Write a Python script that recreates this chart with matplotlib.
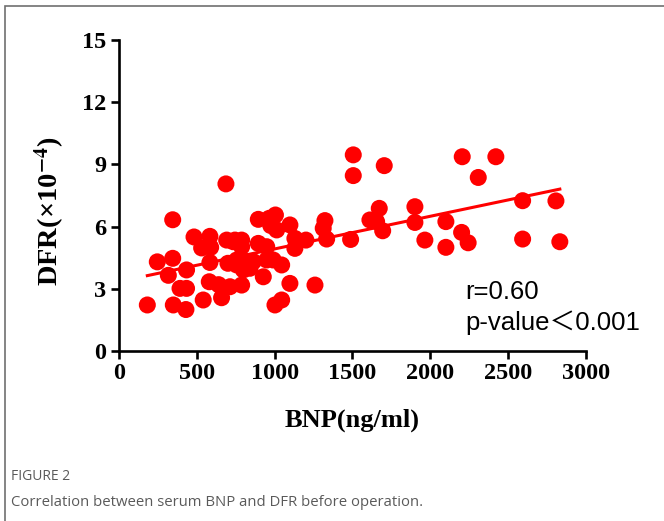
import numpy as np
import matplotlib.pyplot as plt
from matplotlib.patches import Rectangle

plt.rcParams["mathtext.fontset"] = "stix"

# BNP (ng/ml) and DFR (x10^-4)
bnp = [182, 246, 317, 345, 345, 349, 392, 430, 434, 434,
       482, 531, 541, 584, 589, 584, 580, 640, 659, 687,
       692, 700, 713, 734, 745, 756, 756, 788, 788, 788,
       799, 820, 841, 863, 895, 895, 927, 949, 949, 965,
       975, 991, 1005, 1013, 1002, 1045, 1045, 1098, 1098, 1130,
       1130, 1201, 1259, 1323, 1312, 1334, 1505, 1505, 1704, 1488,
       1672, 1612, 1655, 1694, 1901, 1901, 1965, 2100, 2100, 2201,
       2243, 2205, 2421, 2308, 2593, 2593, 2807, 2832]
dfr = [2.22, 4.30, 3.65, 6.33, 4.47, 2.22, 3.02, 2.00, 3.02, 3.91,
       5.50, 4.97, 2.46, 5.53, 5.00, 4.27, 3.34, 3.20, 2.57, 8.06,
       5.35, 4.23, 3.10, 5.27, 5.35, 4.39, 4.15, 5.35, 5.03, 3.18,
       3.91, 4.31, 3.99, 4.31, 6.35, 5.19, 3.58, 5.03, 4.39, 6.40,
       6.05, 4.39, 6.56, 5.84, 2.22, 2.46, 4.15, 6.08, 3.26, 5.43,
       4.95, 5.35, 3.18, 6.29, 5.92, 5.40, 9.46, 8.46, 8.94, 5.38,
       6.88, 6.32, 6.24, 5.80, 6.96, 6.20, 5.35, 6.24, 5.00, 5.72,
       5.22, 9.37, 9.37, 8.37, 7.25, 5.40, 7.24, 5.27]
x_ticks = [0, 500, 1000, 1500, 2000, 2500, 3000]
y_ticks = [0, 3, 6, 9, 12, 15]

fig = plt.figure(figsize=(6.64, 5.21), dpi=100)
ax = fig.add_axes([0.1792, 0.3263, 0.7033, 0.5969])

ax.scatter(bnp, dfr, s=150, color="#ff0000", edgecolors="none", zorder=3)

# linear fit
k, b = np.polyfit(bnp, dfr, 1)
xs = np.array([min(bnp), max(bnp)])
ax.plot(xs, k * xs + b, color="#ff0000", lw=2.2, zorder=4)

ax.set_xlim(0, 3000)
ax.set_ylim(0, 15)
ax.set_xticks(x_ticks)
ax.set_yticks(y_ticks)
for s in ["top", "right"]:
    ax.spines[s].set_visible(False)
for s in ["left", "bottom"]:
    ax.spines[s].set_linewidth(1.9)
ax.tick_params(width=1.9, length=6, labelsize=17.5, pad=3)
for lab in ax.get_xticklabels() + ax.get_yticklabels():
    lab.set_fontfamily("Liberation Serif")
    lab.set_fontweight("bold")

ax.set_xlabel("BNP(ng/ml)", fontsize=19, fontweight="bold",
              fontfamily="Liberation Serif", labelpad=17)
ax.set_ylabel("DFR(×10$^{\\mathbf{-4}}$)", fontsize=20.5, fontweight="bold",
              fontfamily="Liberation Serif")
ax.yaxis.set_label_coords(-0.112, 0.45)

ax.text(0.742, 0.19, "r=0.60", transform=ax.transAxes, fontsize=18.5,
        family=["Liberation Sans", "Noto Sans CJK SC"], va="center")
ax.text(0.742, 0.09, "p-value＜0.001", transform=ax.transAxes, fontsize=18.5,
        family=["Liberation Sans", "Noto Sans CJK SC"], va="center")

# caption and frame
fig.text(0.017, 0.086, "FIGURE 2", fontsize=10, color="#5a5a5a",
         family="Open Sans", va="center")
fig.text(0.016, 0.035, "Correlation between serum BNP and DFR before operation.",
         fontsize=10.7, color="#5a5a5a", family="Open Sans", va="center")
fig.patches.append(Rectangle((0.0075, -0.1), 1.2, 1.088, transform=fig.transFigure,
                             fill=False, edgecolor="#707070", lw=1.2))

fig.savefig("out.png", dpi=100)
